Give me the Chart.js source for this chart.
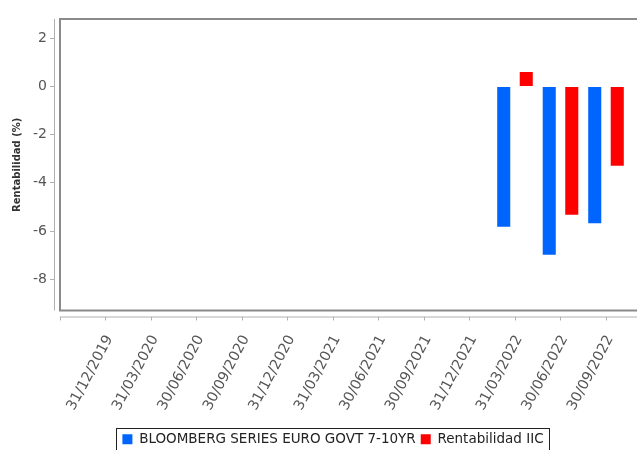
<!DOCTYPE html>
<html>
<head>
<meta charset="utf-8">
<script src="https://cdn.jsdelivr.net/npm/chart.js@4"></script>
<style>
  html, body { margin: 0; padding: 0; background: #fff; overflow: hidden; }
  #wrap { width: 660px; height: 450px; }
</style>
</head>
<body>
<div id="wrap"><canvas id="barChart" width="660" height="450"></canvas></div>
<script>
// empty first/last slots keep the axis running past the first and last date
var fechas = ['', '31/12/2019', '31/03/2020', '30/06/2020', '30/09/2020', '31/12/2020',
  '31/03/2021', '30/06/2021', '30/09/2021', '31/12/2021', '31/03/2022',
  '30/06/2022', '30/09/2022', ''];
var indice = [null, null, null, null, null, null, null, null, null, null, -5.82, -6.99, -5.68, null];
var fondo = [null, null, null, null, null, null, null, null, null, null, 0.6, -5.33, -3.29, null];
var yTicks = [2, 0, -2, -4, -6, -8];

var frame = {
  id: 'frame',
  afterDraw: function(chart) {
    var c = chart.ctx;
    var a = chart.chartArea;
    c.save();
    c.strokeStyle = '#8a8a8a';
    c.lineWidth = 2;
    c.strokeRect(a.left, a.top, a.right - a.left, a.bottom - a.top);
    c.lineWidth = 1;
    c.strokeStyle = '#b0b0b0';
    c.beginPath();
    c.moveTo(a.left - 5.5, a.top);
    c.lineTo(a.left - 5.5, a.bottom);
    c.moveTo(a.left, a.bottom + 6.5);
    c.lineTo(a.right, a.bottom + 6.5);
    c.stroke();
    // box round the legend
    var hb = chart.legend.legendHitBoxes;
    if (hb && hb.length) {
      var last = hb[hb.length - 1];
      var l = hb[0].left - 6, r = last.left + last.width + 6;
      var t = hb[0].top - 5;
      c.strokeStyle = '#222';
      c.lineWidth = 1;
      c.strokeRect(Math.round(l) + 0.5, Math.round(t) + 0.5, Math.round(r - l), 30);
    }
    c.restore();
  }
};

var ctx = document.getElementById('barChart');
var barChart = new Chart(ctx, {
  type: 'bar',
  data: {
    labels: fechas,
    datasets: [{
      label: 'BLOOMBERG SERIES EURO GOVT 7-10YR',
      data: indice,
      backgroundColor: '#0064ff',
      borderWidth: 0,
      barPercentage: 0.58,
      categoryPercentage: 0.99,
    }, {
      label: 'Rentabilidad IIC',
      data: fondo,
      backgroundColor: '#ff0000',
      borderWidth: 0,
      barPercentage: 0.58,
      categoryPercentage: 0.99,
    }],
  },
  options: {
    responsive: false,
    animation: false,
    layout: { padding: { top: 19, right: 8.5, left: 14.5, bottom: -6 } },
    plugins: {
      tooltip: { enabled: false },
      legend: {
        position: 'bottom',
        labels: {
          boxWidth: 10,
          boxHeight: 10,
          padding: 5,
          color: '#222',
          font: { family: 'DejaVu Sans', size: 13.5 },
        },
      },
    },
    scales: {
      x: {
        offset: false,
        border: { display: false },
        grid: {
          offset: false,
          drawOnChartArea: false,
          tickLength: 10,
          tickBorderDash: [0, 6, 4, 0],
          tickColor: '#b0b0b0',
        },
        ticks: {
          autoSkip: false,
          maxRotation: 62,
          minRotation: 62,
          padding: 12,
          labelOffset: 4,
          color: '#555',
          font: { family: 'DejaVu Sans', size: 14.3 },
        },
        afterFit: function(s) {
          s.height = 117;
          s.paddingLeft = 0;
          s.paddingRight = 0;
        },
      },
      y: {
        min: -9.3,
        max: 2.8,
        border: { display: false },
        grid: {
          drawOnChartArea: false,
          tickLength: 10,
          tickBorderDash: [4, 6],
          tickColor: '#b0b0b0',
        },
        afterBuildTicks: function(s) {
          s.ticks = yTicks.map(function(v) { return { value: v }; });
        },
        ticks: {
          padding: 3,
          color: '#555',
          font: { family: 'DejaVu Sans', size: 14 },
        },
        title: {
          display: true,
          text: 'Rentabilidad (%)',
          color: '#333',
          padding: { top: -3.5, bottom: 0 },
          font: { family: 'DejaVu Sans', size: 10, weight: 'bold' },
        },
        afterFit: function(s) { s.width = 45.5; },
      },
    },
  },
  plugins: [frame],
});
</script>
</body>
</html>
